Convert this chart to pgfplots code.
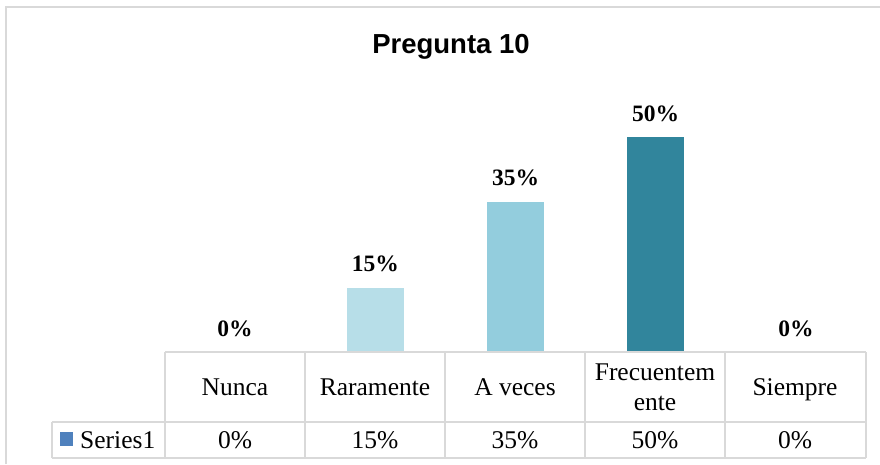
\documentclass[border=0pt]{standalone}
\usepackage{pgfplots}
\pgfplotsset{compat=1.18}
\usepackage{fontspec}
\setmainfont{Liberation Serif}
\newfontfamily\arialfont{Liberation Sans}
\definecolor{gridgray}{HTML}{D9D9D9}
\definecolor{c1}{HTML}{4F81BD}
\definecolor{c2}{HTML}{B7DEE8}
\definecolor{c3}{HTML}{93CDDD}
\definecolor{c4}{HTML}{31859C}
\begin{document}
\begin{tikzpicture}[x=1pt,y=1pt]
\useasboundingbox (0,0) rectangle (880,464);
\draw[gridgray, line width=2pt] (6,0) -- (6,457) -- (880,457);
\node[font=\arialfont\bfseries\fontsize{27.5}{33}\selectfont, anchor=base] at (451,410) {Pregunta 10};
\begin{axis}[at={(165pt,112pt)}, anchor=south west, scale only axis,
  width=701pt, height=258pt, xmin=-0.5, xmax=4.5, ymin=0, ymax=0.6,
  hide axis, ybar, bar width=57pt, clip=false,
  point meta={y*100},
  /pgf/number format/assume math mode=true,
  nodes near coords={\pgfmathprintnumber[fixed,precision=0,assume math mode=true]{\pgfplotspointmeta}\%},
  nodes near coords style={anchor=base, inner sep=0pt, yshift=16pt,
    font=\bfseries\fontsize{23.5}{28}\selectfont, text=black}]
\addplot[fill=c1, draw=none, bar shift=0pt] coordinates {(0,0)};
\addplot[fill=c2, draw=none, bar shift=0pt] coordinates {(1,0.15)};
\addplot[fill=c3, draw=none, bar shift=0pt] coordinates {(2,0.35)};
\addplot[fill=c4, draw=none, bar shift=0pt] coordinates {(3,0.50)};
\addplot[fill=c1, draw=none, bar shift=0pt] coordinates {(4,0)};
\end{axis}
% data table
\begin{scope}[gridgray, line width=1.5pt]
\draw (165,112) -- (866,112);
\draw (52,42) -- (866,42);
\draw (52,6) -- (866,6);
\draw (52,6) -- (52,42);
\foreach \xx in {165,305,445,585,725,866} {\draw (\xx,6) -- (\xx,112);}
\end{scope}
\begin{scope}[every node/.style={font=\fontsize{25.5}{30}\selectfont, inner sep=0pt}]
\node[anchor=base] at (235,69) {Nunca};
\node[anchor=base] at (375,69) {Raramente};
\node[anchor=base] at (515,69) {A veces};
\node[anchor=base, align=center] at (655,54) {Frecuentem\\ente};
\node[anchor=base] at (795,69) {Siempre};
\node[anchor=base] at (235,16) {0\%};
\node[anchor=base] at (375,16) {15\%};
\node[anchor=base] at (515,16) {35\%};
\node[anchor=base] at (655,16) {50\%};
\node[anchor=base] at (795,16) {0\%};
\node[anchor=base west] at (80,16) {Series1};
\end{scope}
\fill[c1] (60,18) rectangle (73,32);
\end{tikzpicture}
\end{document}
